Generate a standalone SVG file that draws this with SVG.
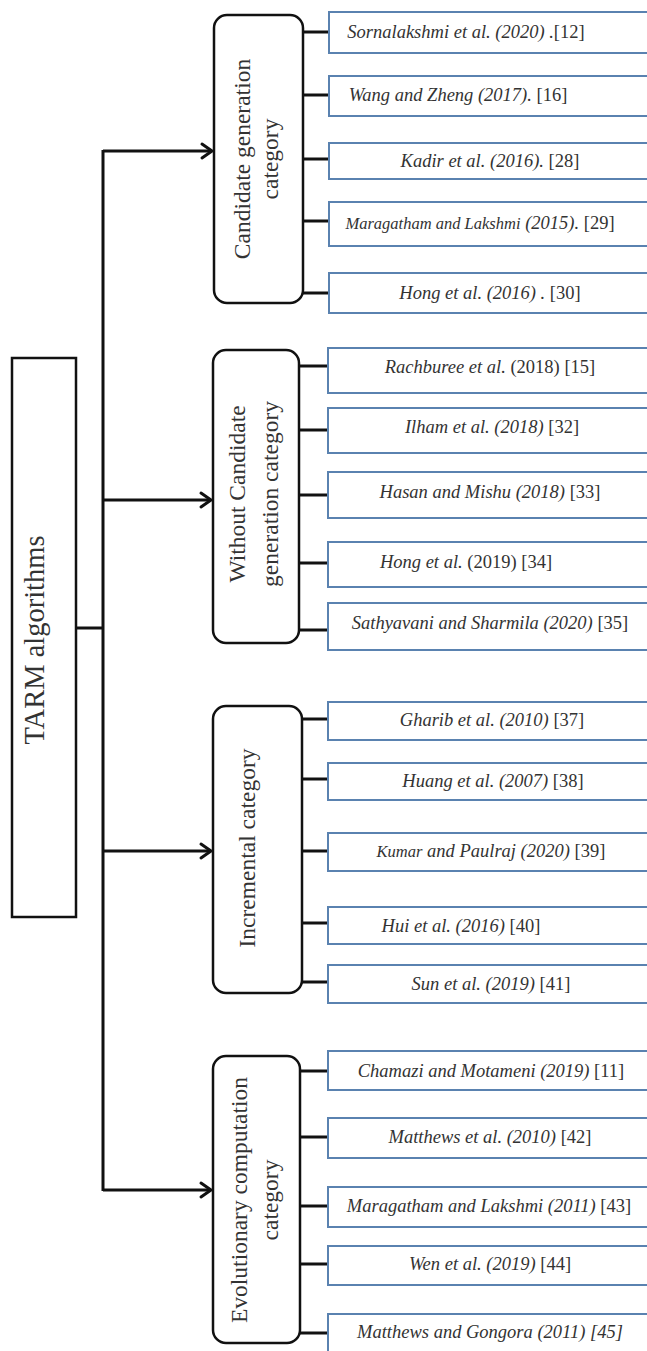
<svg xmlns="http://www.w3.org/2000/svg" width="647" height="1351" viewBox="0 0 647 1351">
<style>
.bg{fill:#ffffff}
.main{fill:#ffffff;stroke:#111;stroke-width:2.5}
.cat{fill:#ffffff;stroke:#111;stroke-width:2.5}
.leaf{fill:#ffffff;stroke:#5a82b0;stroke-width:2}
.ln{fill:none;stroke:#111;stroke-width:3}
.ah{fill:none;stroke:#111;stroke-width:3;stroke-linecap:round;stroke-linejoin:round}
.ct{font-family:"Liberation Serif","Times New Roman",serif;font-size:23.5px;fill:#333;text-anchor:middle}
.mt{font-family:"Liberation Serif","Times New Roman",serif;font-size:28.5px;fill:#333;text-anchor:middle}
.lt{font-family:"Liberation Serif","Times New Roman",serif;font-size:18.5px;fill:#333;text-anchor:middle;font-style:italic}
.r{font-style:normal}
.sm{font-size:16.5px}
</style>
<rect class="bg" x="0" y="0" width="647" height="1351"/>

<g id="connectors">
  <line class="ln" x1="76" y1="628" x2="103" y2="628"/>
  <line class="ln" x1="103" y1="150" x2="103" y2="1191"/>
  <line class="ln" x1="103" y1="151" x2="212" y2="151"/>
  <polyline class="ah" points="202,144 212,151 202,158"/>
  <line class="ln" x1="103" y1="500" x2="211" y2="500"/>
  <polyline class="ah" points="201,493 211,500 201,507"/>
  <line class="ln" x1="103" y1="851" x2="211" y2="851"/>
  <polyline class="ah" points="201,844 211,851 201,858"/>
  <line class="ln" x1="103" y1="1190" x2="211" y2="1190"/>
  <polyline class="ah" points="201,1183 211,1190 201,1197"/>
  <!-- candidate -->
  <line class="ln" x1="303" y1="32" x2="329" y2="32"/>
  <line class="ln" x1="303" y1="95" x2="329" y2="95"/>
  <line class="ln" x1="303" y1="159" x2="329" y2="159"/>
  <line class="ln" x1="303" y1="221" x2="329" y2="221"/>
  <line class="ln" x1="303" y1="293" x2="329" y2="293"/>
  <!-- without -->
  <line class="ln" x1="299" y1="366" x2="328" y2="366"/>
  <line class="ln" x1="299" y1="430" x2="328" y2="430"/>
  <line class="ln" x1="299" y1="495" x2="328" y2="495"/>
  <line class="ln" x1="299" y1="563" x2="328" y2="563"/>
  <line class="ln" x1="299" y1="630" x2="328" y2="630"/>
  <!-- incremental -->
  <line class="ln" x1="302" y1="719" x2="328" y2="719"/>
  <line class="ln" x1="302" y1="779" x2="328" y2="779"/>
  <line class="ln" x1="302" y1="851" x2="328" y2="851"/>
  <line class="ln" x1="302" y1="923" x2="328" y2="923"/>
  <line class="ln" x1="302" y1="982" x2="328" y2="982"/>
  <!-- evolutionary -->
  <line class="ln" x1="300" y1="1071" x2="328" y2="1071"/>
  <line class="ln" x1="300" y1="1137" x2="328" y2="1137"/>
  <line class="ln" x1="300" y1="1206" x2="328" y2="1206"/>
  <line class="ln" x1="300" y1="1264" x2="328" y2="1264"/>
  <line class="ln" x1="300" y1="1333" x2="328" y2="1333"/>
</g>

<g id="tarm">
  <rect class="main" x="12" y="358" width="64" height="559"/>
  <text class="mt" transform="translate(44,640) rotate(-90)" x="0" y="0">TARM algorithms</text>
</g>

<g id="cat-candidate">
  <rect class="cat" x="214" y="15" width="89" height="288" rx="13"/>
  <text class="ct" transform="translate(258.5,159) rotate(-90)"><tspan x="0" y="-8.5">Candidate generation</tspan><tspan x="0" y="19.5">category</tspan></text>
</g>
<g id="cat-without">
  <rect class="cat" x="213" y="350" width="86" height="293" rx="13"/>
  <text class="ct" transform="translate(256,494) rotate(-90)"><tspan x="0" y="-11">Without Candidate</tspan><tspan x="0" y="22">generation category</tspan></text>
</g>
<g id="cat-incremental">
  <rect class="cat" x="213" y="706" width="89" height="287" rx="13"/>
  <text class="ct" transform="translate(257.5,848) rotate(-90)" x="0" y="-2.5">Incremental category</text>
</g>
<g id="cat-evolutionary">
  <rect class="cat" x="213" y="1056" width="87" height="287" rx="13"/>
  <text class="ct" transform="translate(256.5,1200) rotate(-90)"><tspan x="0" y="-9.5">Evolutionary computation</tspan><tspan x="0" y="21.5">category</tspan></text>
</g>

<g id="leaf-c1"><rect class="leaf" x="329" y="12" width="340" height="41"/><text class="lt" x="466" y="38">Sornalakshmi et al. (2020) .<tspan class="r">[12]</tspan></text></g>
<g id="leaf-c2"><rect class="leaf" x="329" y="76" width="340" height="40"/><text class="lt" x="458" y="101">Wang and Zheng (2017). <tspan class="r">[16]</tspan></text></g>
<g id="leaf-c3"><rect class="leaf" x="329" y="143" width="340" height="36"/><text class="lt" x="490" y="167">Kadir et al. (2016). <tspan class="r">[28]</tspan></text></g>
<g id="leaf-c4"><rect class="leaf" x="329" y="202" width="340" height="44"/><text class="lt" x="480" y="229"><tspan class="sm">Maragatham and Lakshmi</tspan> (2015). <tspan class="r">[29]</tspan></text></g>
<g id="leaf-c5"><rect class="leaf" x="329" y="273" width="340" height="40"/><text class="lt" x="490" y="299">Hong et al. (2016) . <tspan class="r">[30]</tspan></text></g>

<g id="leaf-w1"><rect class="leaf" x="328" y="348" width="340" height="45"/><text class="lt" x="490" y="373">Rachburee et al. <tspan class="r">(2018) [15]</tspan></text></g>
<g id="leaf-w2"><rect class="leaf" x="328" y="408" width="340" height="45"/><text class="lt" x="492" y="433">Ilham et al. (2018) <tspan class="r">[32]</tspan></text></g>
<g id="leaf-w3"><rect class="leaf" x="328" y="472" width="340" height="46"/><text class="lt" x="490" y="498">Hasan and Mishu (2018) <tspan class="r">[33]</tspan></text></g>
<g id="leaf-w4"><rect class="leaf" x="328" y="542" width="340" height="45"/><text class="lt" x="466" y="568">Hong et al. <tspan class="r">(2019) [34]</tspan></text></g>
<g id="leaf-w5"><rect class="leaf" x="328" y="603" width="340" height="47"/><text class="lt" x="490" y="629">Sathyavani and Sharmila (2020) <tspan class="r">[35]</tspan></text></g>

<g id="leaf-i1"><rect class="leaf" x="328" y="702" width="340" height="38"/><text class="lt" x="492" y="726">Gharib et al. (2010) <tspan class="r">[37]</tspan></text></g>
<g id="leaf-i2"><rect class="leaf" x="328" y="763" width="340" height="37"/><text class="lt" x="493" y="787">Huang et al. (2007) <tspan class="r">[38]</tspan></text></g>
<g id="leaf-i3"><rect class="leaf" x="328" y="833" width="340" height="38"/><text class="lt" x="491" y="857"><tspan class="sm">Kumar</tspan> and Paulraj (2020) <tspan class="r">[39]</tspan></text></g>
<g id="leaf-i4"><rect class="leaf" x="328" y="907" width="340" height="37"/><text class="lt" x="461" y="932">Hui et al. (2016) <tspan class="r">[40]</tspan></text></g>
<g id="leaf-i5"><rect class="leaf" x="328" y="965" width="340" height="38"/><text class="lt" x="491" y="990">Sun et al. (2019) <tspan class="r">[41]</tspan></text></g>

<g id="leaf-e1"><rect class="leaf" x="328" y="1051" width="340" height="39"/><text class="lt" x="491" y="1077">Chamazi and Motameni (2019) <tspan class="r">[11]</tspan></text></g>
<g id="leaf-e2"><rect class="leaf" x="328" y="1118" width="340" height="40"/><text class="lt" x="490" y="1143">Matthews et al. (2010)  <tspan class="r">[42]</tspan></text></g>
<g id="leaf-e3"><rect class="leaf" x="328" y="1187" width="340" height="40"/><text class="lt" x="489" y="1212">Maragatham and Lakshmi (2011) <tspan class="r">[43]</tspan></text></g>
<g id="leaf-e4"><rect class="leaf" x="328" y="1246" width="340" height="39"/><text class="lt" x="490" y="1270">Wen et al. (2019) <tspan class="r">[44]</tspan></text></g>
<g id="leaf-e5"><rect class="leaf" x="328" y="1314" width="340" height="50"/><text class="lt" x="490" y="1338">Matthews and Gongora (2011) [45]</text></g>
</svg>
